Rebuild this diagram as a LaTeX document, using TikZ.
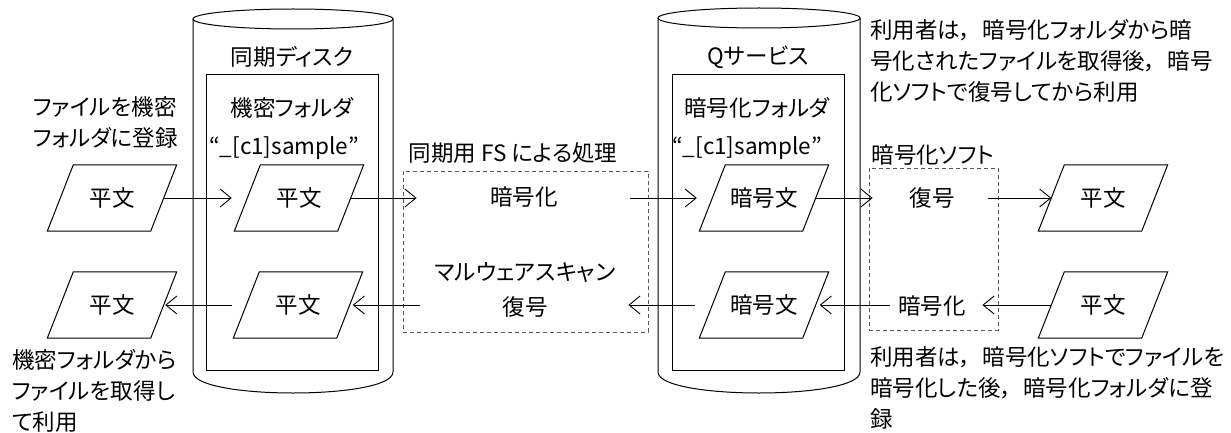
\documentclass[tikz,border=0pt]{standalone}
\usepackage{fontspec}
\setmainfont{Noto Sans CJK JP}[RawFeature=+palt]
\usetikzlibrary{arrows.meta}
\newcommand\drawpara[1]{\draw[ln] ([xshift=13pt]#1.north west) -- ([xshift=13pt]#1.north east) -- ([xshift=-13pt]#1.south east) -- ([xshift=-13pt]#1.south west) -- cycle;}
\newcommand\jcomma{，\hspace{0.5em}}
\begin{document}
\begin{tikzpicture}[x=1pt,y=-1pt,
  every node/.style={font=\fontsize{22.5}{31}\selectfont, inner sep=0pt},
  para/.style={minimum width=103pt, minimum height=66pt},
  arr/.style={-{Straight Barb[length=11pt,width=18pt]}, line width=0.9pt},
  dbox/.style={draw=black!65, dashed, line width=0.8pt, dash pattern=on 4pt off 3pt},
  ln/.style={line width=1pt}]
\useasboundingbox (0,0) rectangle (1231,433);
% cylinders
\draw[ln] (293,19) ellipse [x radius=100pt, y radius=10pt];
\draw[ln] (193,19) -- (193,372) .. controls (193,400) and (393,400) .. (393,372) -- (393,19);
\draw[ln] (206,75) rectangle (378,370);
\draw[ln] (759,18) ellipse [x radius=101pt, y radius=10pt];
\draw[ln] (658,18) -- (658,372) .. controls (658,400) and (860,400) .. (860,372) -- (860,18);
\draw[ln] (672,75) rectangle (844,370);
\node (c1t) at (292,57) {同期ディスク};
\node (f1t) at (292,108) {機密フォルダ};
\node (s1t) at (284,148) {“\_[c1]sample”};
\node (c2t) at (758,57) {Qサービス};
\node (f2t) at (757,108) {暗号化フォルダ};
\node (s2t) at (747,148) {“\_[c1]sample”};
% dashed boxes
\node[dbox, minimum width=245pt, minimum height=161pt] (B1) at (525.5,251.5) {};
\node[dbox, minimum width=129pt, minimum height=162pt] (B2) at (933.5,249) {};
\node (B1t) at (513,153) {同期用 FS による処理};
\node (enc1) at (524,197) {暗号化};
\node (mal) at (525,272) {マルウェアスキャン};
\node (dec1) at (525,307) {復号};
\node (B2t) at (933,155) {暗号化ソフト};
\node (dec2) at (932,198) {復号};
\node (enc2) at (932,306) {暗号化};
% parallelograms
\node[para] (P1) at (112,198) {平文};
\node[para] (P2) at (299,198) {平文};
\node[para] (P3) at (764,198) {暗号文};
\node[para] (P4) at (1103,198) {平文};
\node[para] (Q1) at (112,305) {平文};
\node[para] (Q2) at (298,305) {平文};
\node[para] (Q3) at (764,305) {暗号文};
\node[para] (Q4) at (1103,305) {平文};
\drawpara{P1}\drawpara{P2}\drawpara{P3}\drawpara{P4}
\drawpara{Q1}\drawpara{Q2}\drawpara{Q3}\drawpara{Q4}
% arrows
\draw[arr, shorten >=15.5pt] (P1.east) -- (P2.west);
\draw[arr, shorten >=-14pt] (P2.east) -- (B1.west |- P2.east);
\draw[arr, shorten <=-18pt, shorten >=15.5pt] (B1.east |- P3.west) -- (P3.west);
\draw[arr, shorten >=-4pt] (P3.east) -- (B2.west |- P3.east);
\draw[arr, shorten <=-10pt] (B2.east |- P4.west) -- (P4.west);
\draw[arr, shorten >=-16pt] (Q4.west) -- (B2.east |- Q4.west);
\draw[arr, shorten <=-21pt, shorten >=4pt] (B2.west |- Q3.east) -- (Q3.east);
\draw[arr, shorten <=17.5pt, shorten >=-20pt] (Q3.west) -- (B1.east |- Q3.west);
\draw[arr, shorten <=-17pt, shorten >=3pt] (B1.west |- Q2.east) -- (Q2.east);
\draw[arr, shorten <=14.5pt, shorten >=1.5pt] (Q2.west) -- (Q1.east);
% notes
\node[anchor=west, align=left] (tl) at (33,122) {ファイルを機密\\フォルダに登録};
\node[anchor=west, align=left] (bl) at (12,391) {機密フォルダから\\ファイルを取得し\\て利用};
\node[anchor=west, align=left] (tr) at (870,61) {利用者は\jcomma 暗号化フォルダから暗\\号化されたファイルを取得後\jcomma 暗号\\化ソフトで復号してから利用};
\node[anchor=west, align=left] (br) at (870,388) {利用者は\jcomma 暗号化ソフトでファイルを\\暗号化した後\jcomma 暗号化フォルダに登\\録};
\end{tikzpicture}
\end{document}
